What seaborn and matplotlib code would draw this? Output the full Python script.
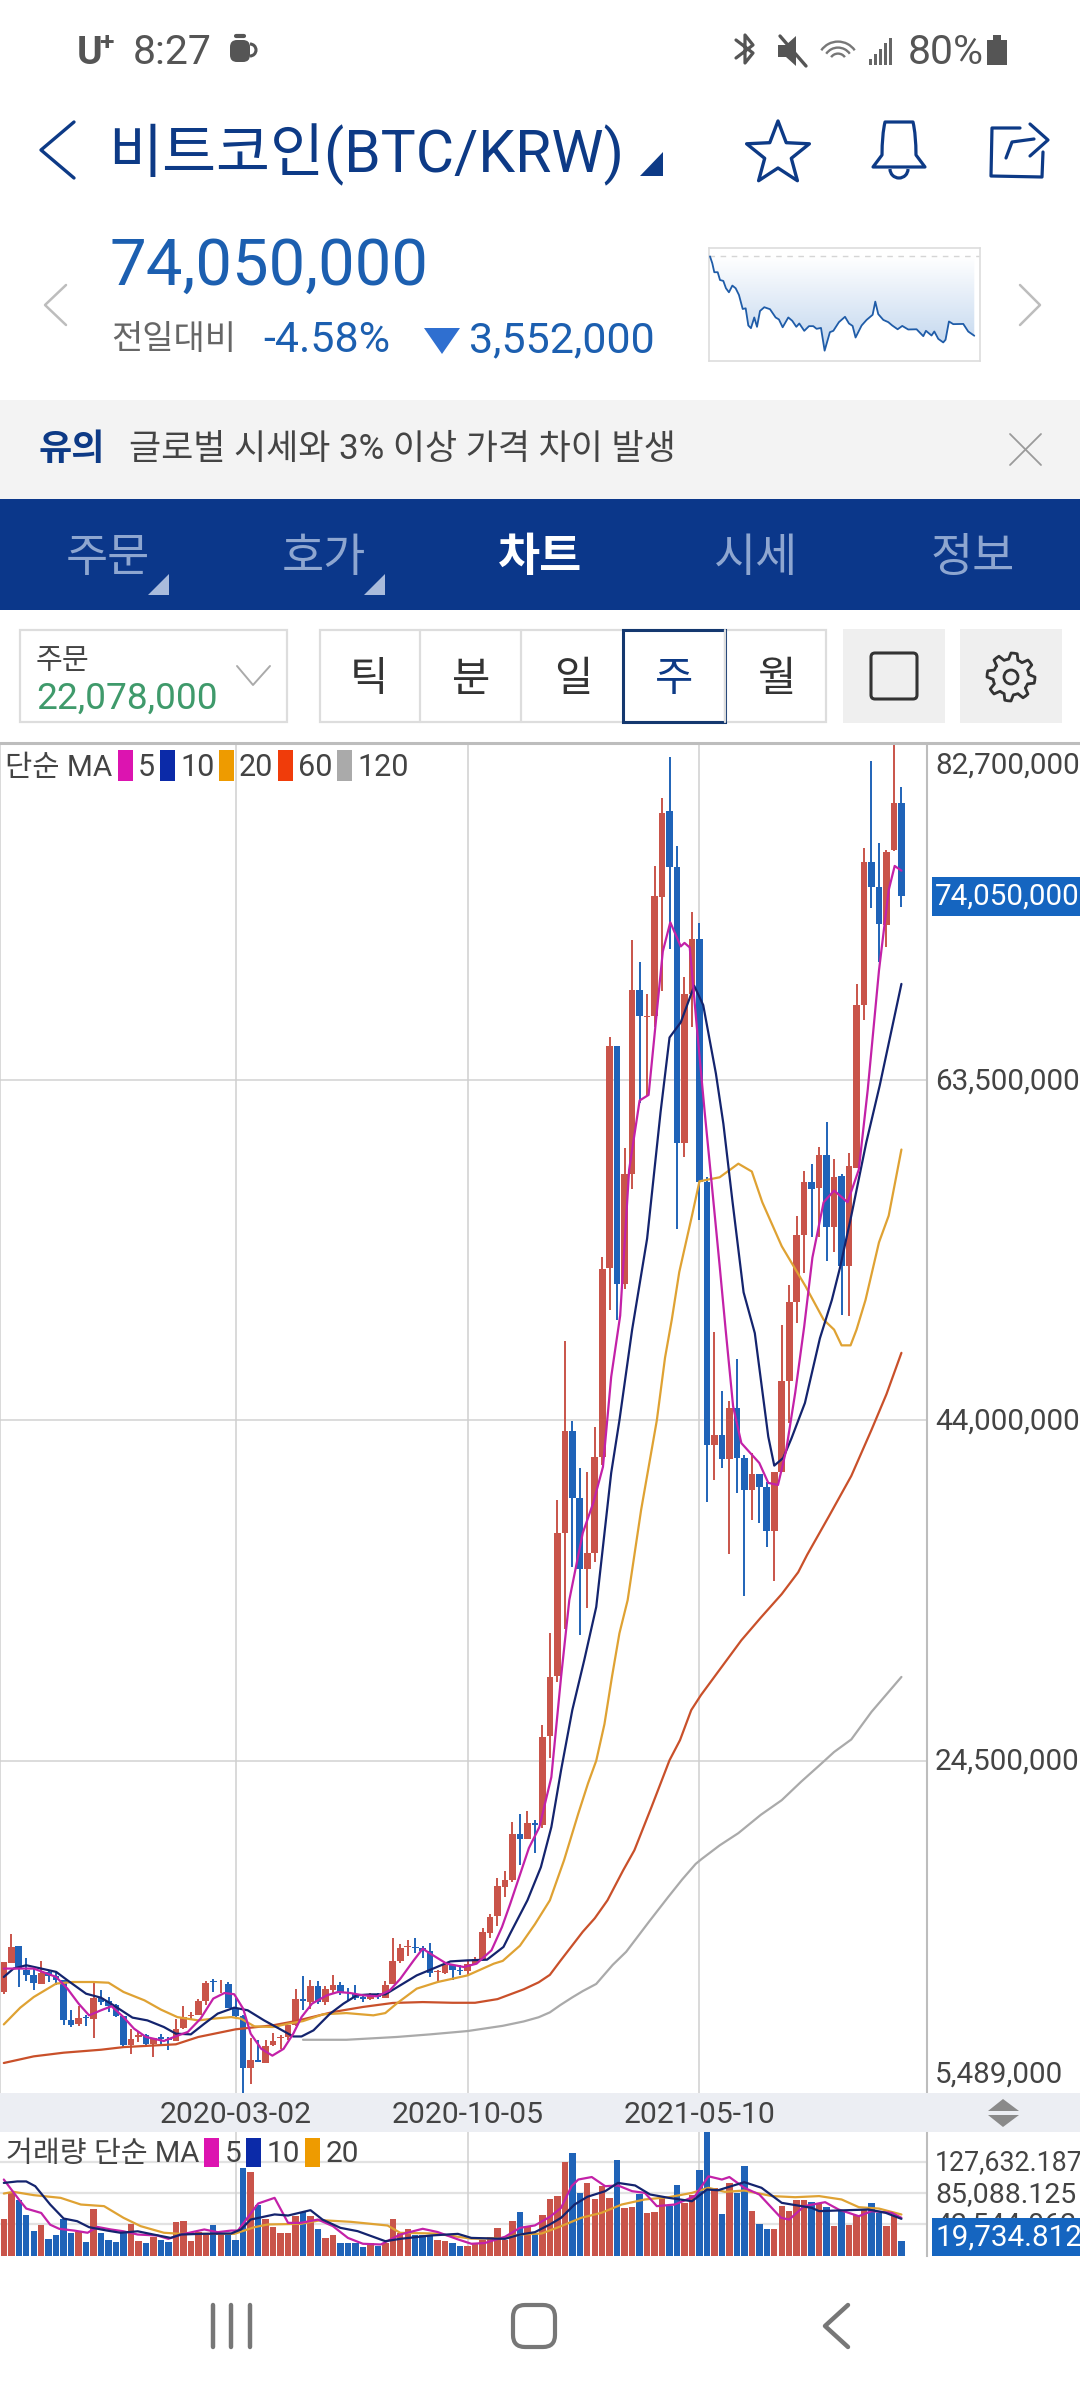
import numpy as np
import pandas as pd
import matplotlib
matplotlib.use("Agg")
import matplotlib.pyplot as plt
from matplotlib.patches import Rectangle, Polygon, FancyBboxPatch, Circle, Arc, PathPatch
from matplotlib.path import Path
from matplotlib.colors import LinearSegmentedColormap
import seaborn as sns

# ---------- data: weekly BTC/KRW candles, million KRW ----------
open_ = [11.25,12.93,13.87,12.49,12.21,11.73,12.40,12.15,11.92,9.62,9.39,9.80,9.68,10.92,10.75,10.48,9.87,8.19,8.67,8.76,8.29,8.65,8.57,8.44,9.20,9.85,9.95,10.75,11.86,11.69,11.73,10.35,9.85,6.89,7.33,7.20,8.19,8.61,8.67,9.34,10.83,10.67,11.59,10.67,11.38,11.63,11.25,11.15,10.96,10.83,11.09,10.92,11.72,13.01,13.83,13.83,13.77,13.60,12.39,12.34,12.78,12.53,12.43,12.87,13.16,14.65,15.59,17.25,17.65,20.29,20.00,20.92,20.81,25.91,29.35,37.55,43.40,39.56,35.48,36.41,41.91,52.75,65.43,51.83,58.14,68.64,67.14,67.20,73.97,78.90,75.69,59.92,68.46,71.56,57.68,42.60,43.17,41.80,44.72,41.85,40.02,40.94,40.19,37.67,41.05,46.27,50.80,54.64,57.68,57.34,59.20,55.10,58.03,52.84,58.49,67.83,75.98,74.54,72.36,76.70,79.36]
close = [12.97,13.83,12.59,12.21,11.77,12.34,12.17,11.92,9.66,9.38,9.76,9.74,10.92,10.69,10.43,9.87,8.19,8.57,8.76,8.29,8.63,8.57,8.52,9.15,9.83,9.91,10.73,11.78,11.80,11.73,10.35,9.85,6.91,7.33,7.23,8.13,8.44,8.67,9.34,10.86,10.71,11.59,10.67,11.44,11.67,11.25,11.19,10.92,10.86,11.09,10.96,11.67,13.01,13.79,13.89,13.77,13.60,12.36,12.43,12.82,12.53,12.45,12.87,13.16,14.69,15.55,17.31,17.65,20.29,20.00,20.92,20.81,25.85,29.29,37.55,43.40,39.56,35.48,36.41,41.91,52.69,65.43,51.83,58.14,68.64,67.20,67.20,74.03,78.79,75.69,59.92,68.46,71.56,57.68,42.60,43.17,41.80,44.72,41.85,40.02,40.94,40.19,37.67,41.05,46.27,50.80,54.64,57.68,57.28,59.20,55.10,57.97,52.84,58.60,67.80,75.98,74.54,72.42,76.58,79.36,74.05]
high = [12.97,14.56,13.87,13.20,12.59,13.01,12.49,12.40,11.92,10.20,10.43,9.91,11.86,11.34,10.96,10.58,9.87,9.15,8.95,8.86,8.63,8.86,8.67,9.72,10.45,10.10,10.87,11.86,12.01,11.96,11.82,10.92,9.91,8.63,8.48,8.48,8.92,8.76,9.34,11.40,12.15,11.92,11.86,11.57,12.20,11.82,11.50,11.63,11.06,11.19,11.19,11.88,14.36,14.02,14.25,14.36,13.87,14.06,12.49,12.93,12.87,12.78,13.01,13.26,14.94,15.74,17.77,18.17,20.98,21.43,21.61,21.10,26.54,31.82,39.44,48.56,43.97,41.28,41.05,43.63,53.38,65.98,65.48,59.63,71.50,70.24,68.41,75.75,79.65,82.03,76.89,69.38,73.14,72.48,57.97,49.08,45.70,45.12,47.53,42.03,42.14,40.94,40.48,41.05,49.48,51.77,55.73,58.31,58.71,59.69,61.12,58.99,58.14,59.34,69.01,76.78,81.77,77.07,76.70,82.70,80.28]
low = [11.12,12.93,11.54,11.86,11.34,11.69,11.82,11.63,9.34,9.24,9.28,9.32,8.63,10.48,10.10,9.82,8.09,7.67,8.38,8.19,7.52,8.19,7.90,8.44,9.15,9.62,9.91,10.48,11.27,11.19,10.35,9.82,5.46,5.99,7.23,7.20,8.13,7.99,8.51,9.28,10.20,10.29,10.58,10.48,11.19,11.06,10.77,10.77,10.67,10.81,10.83,10.92,11.69,12.93,13.29,13.48,13.22,12.11,11.82,12.30,11.91,12.20,12.20,12.78,13.06,14.36,15.01,16.68,17.54,18.51,20.00,19.20,20.63,24.65,29.01,32.02,35.60,31.70,33.25,35.89,41.45,50.34,49.77,51.55,57.28,62.21,62.56,66.57,68.58,70.99,54.99,59.12,66.57,55.50,39.33,40.59,41.28,36.35,39.85,33.94,38.30,38.13,36.75,34.80,41.05,43.86,49.60,52.46,54.53,54.53,53.15,53.67,50.05,50.00,58.49,66.92,73.34,70.24,71.10,76.61,73.40]
volume = [50.4,85.4,75.0,55.0,33.2,41.8,22.7,27.7,49.1,30.9,32.3,18.2,63.2,30.0,21.4,18.6,33.2,42.3,19.5,16.8,25.0,20.9,18.2,45.9,46.4,19.5,32.3,30.9,41.8,30.9,30.0,21.4,119.5,114.5,69.1,49.1,39.5,30.0,30.5,54.5,59.1,53.2,35.5,24.5,28.6,16.4,16.8,16.4,11.4,16.4,12.7,16.4,49.1,30.9,35.5,28.6,27.3,27.7,20.5,19.5,17.3,12.7,13.6,15.0,21.8,25.5,37.7,21.8,47.7,59.5,38.6,30.9,55.4,77.7,81.8,127.3,140.4,85.4,99.1,76.4,94.5,78.6,130.9,64.1,66.4,83.2,58.6,59.1,78.6,67.3,96.4,71.8,82.3,116.4,172.0,92.3,56.4,99.1,85.4,122.3,60.0,43.2,36.8,36.8,67.3,60.4,75.0,75.0,73.6,70.9,65.9,40.9,62.7,41.4,55.9,62.7,71.8,58.2,40.9,53.6,19.7]

ma5_x = [0,1.8,4,5.8,7,8.5,10,11.4,13,14.4,16,17.4,19,21.4,23,24.6,26.3,28,29.5,30.8,32,33,34.4,35.9,37.4,38.7,39.8,41.2,43.2,44.7,46.3,48,49.9,51.6,53,54.8,56,57,59.2,61.5,63.2,65.2,66.6,67.7,70.2,71.6,73.2,74.5,75.6,77.4,78.8,80.1,81.2,82.4,83.6,85,86.2,88.1,89.1,90.5,91,91.7,92.7,93.7,94.7,95.7,96.5,97.5,98.6,101,102.2,103.5,104.6,105.8,107,108.1,109.6,111,112.8,114.3,115.5,117,118.3,119.1,120]
ma5 = [12.59,12.59,12.59,12.3,12.11,11.44,10.58,9.91,10.2,10.43,9.81,9.15,8.67,8.44,8.71,8.96,9.72,10.87,11.19,11.12,10.29,8.86,8.0,7.6,7.99,8.86,9.81,10.58,11.06,11.25,11.19,11.06,11.0,11.34,12.0,13.06,13.73,13.45,12.87,12.68,12.87,13.64,14.97,16.3,19.5,20.7,23.56,29.3,33.71,37.55,39.27,41.34,46.5,50.0,58.37,62.33,62.65,70.87,72.54,71.16,71.36,71.1,66.3,61.66,57.28,52.86,49.2,44.8,42.7,41.56,40.42,40.3,42.31,45.58,49.37,53.33,56.5,57.17,56.5,58.37,62.96,69.78,74.39,75.77,75.5]
ma10_x = [0,1.3,3,5,7,8.5,11,13,14.7,17.2,19.2,21.4,23,25,26.8,28.6,30.8,32.6,34.8,36.8,38.7,39.8,41.4,43.6,45.4,47.2,49,51,53,55.2,57.4,59.7,62,64.6,66.8,67.7,70,71.8,73.2,74.5,76,77.6,79.2,81.2,82.3,84,86,87.8,89,90.5,92.3,93.5,95.2,96.2,97.4,98.9,100.4,102.2,103,104.2,105.3,107.1,109.1,110.7,111.8,113.3,115.3,117.1,120]
ma10 = [12.11,12.59,12.78,12.59,12.40,11.92,11.15,10.92,10.48,9.78,9.62,9.24,8.86,8.82,9.43,10.01,10.35,10.20,9.62,9.15,8.70,8.70,9.05,10.0,10.58,11.06,11.11,11.11,11.63,12.2,12.59,13.0,13.06,13.1,13.83,14.6,16.5,18.4,20.7,23.96,27.4,30.27,33.31,40.99,44.0,49.2,54.41,61.66,65.94,66.81,68.9,67.8,63.87,60.99,56.6,51.34,49.0,43.07,41.41,41.85,42.97,45.0,48.7,50.9,52.77,55.73,59.92,63.19,69.01]
ma20_x = [0,2.2,4,7,9.2,12,14,16,18.8,21,23.2,26,28,30.4,31.7,33.5,36,38,40,42.7,45.8,49.4,51,52.5,55.2,58,62,65.5,66.7,69,71,73,74.9,76.8,78.1,79.2,80.3,81.3,82.3,83.4,85.2,87.3,88.4,89.3,90.3,92,93,95.7,98.2,100,101.4,104,107.2,109.6,111,112,113.2,114,115.2,117,118.3,120]
ma20 = [9.39,10.35,10.96,11.73,11.82,11.82,11.78,11.25,10.77,10.24,9.81,9.62,9.72,9.81,9.72,9.28,9.24,9.43,9.58,9.97,10.04,9.91,10.04,10.58,11.44,11.82,12.2,12.87,13.03,13.9,15.13,16.5,18.8,21.47,23.2,24.5,26.6,29.3,31.8,33.7,38.87,44.0,47.6,49.77,52.5,55.73,57.7,57.93,58.71,58.26,56.5,53.98,51.67,49.77,49.2,48.3,48.3,49.2,50.9,54.2,55.73,59.52]
ma60_x = [0,4,8,13,16,23,26,31,36,39,44,48,52,56,60,63,66,69.5,71.5,73,74.4,76,77.4,79,80.7,82.8,84.3,86.6,89,90.4,91.9,93.2,95.5,98.6,101.2,104,106.2,107.4,110.3,113.3,116,118,120]
ma60 = [7.18,7.56,7.77,7.94,8.09,8.25,8.67,9.11,9.34,9.58,10.10,10.39,10.62,10.67,10.63,10.63,10.84,11.4,11.8,12.23,13.03,13.92,14.7,15.47,16.5,18.22,19.37,21.86,24.53,25.68,27.4,28.26,29.6,31.4,32.7,34.05,35.3,36.3,38.5,40.82,43.46,45.5,47.87]
ma120_x = [40,45.8,52.5,57,62,66.7,69.5,71.5,73,74.4,76,77.4,79.2,81.4,83.2,86.3,88.8,90.7,92.5,93.3,95.7,98.2,101.2,104,106.6,109,111,113.3,116,120]
ma120 = [8.51,8.51,8.67,8.82,9.01,9.31,9.56,9.8,10.08,10.5,10.94,11.3,11.71,12.8,13.55,15.3,16.68,17.7,18.59,18.87,19.65,20.35,21.4,22.24,23.3,24.22,25.0,25.72,27.3,29.3]

vma5_x = [0,1,2.2,3,5,6.2,7.4,9.4,11.2,12.5,14.3,16,17.9,20.5,22,23.7,26.8,28.6,30.4,31.3,32.4,34,36.2,38,39.7,42,44,46,48,50.4,53,56,58,60.7,62.5,64.3,67,69,71,73,74.5,75.9,76.8,78.6,80.4,82.1,84,85.7,87.3,89.7,92.4,94.2,96,97,99,101,103.9,105,107,109.8,111.6,114.3,116,118.7,120]
vma5 = [103.6,90,74,64,58,42,36.4,34,31,39,35.5,33,28.6,27.3,22.7,28.6,35.5,31.8,34,34,49,70.9,78.6,44.5,44.5,49,40,24,16,15,28.6,36.4,32,22,16,17,25.5,37.7,41,52.7,65,94.5,103.6,107,94.5,95.5,87.7,85.4,67.3,69.5,81,108,103.6,107,92.3,83.2,51.4,49,67.3,72.7,62.7,53.6,60.5,58.2,51.4]
vma10_x = [0,1.8,3,4.2,6.2,8,9.8,11.4,13.8,15.6,17.9,20,22.3,23.7,26.3,30.4,31.7,33,36.2,38,41,42.6,45,47.3,51,53,57.1,60.7,62.5,67,69,71,73,74.5,76.3,78,80.4,82.1,84.4,86.4,88.9,92,94,95.5,99,101.3,104,108,109,111.6,115.6,117.9,120]
vma10 = [99,101,101,94.5,69.5,50.4,46.8,38.6,34,31,33,28.6,24,28.6,29.5,30,35.5,49,56,54.5,61.8,49,37.7,33.2,19.5,22.7,27.3,29.5,24,22.7,28.6,31.8,42.3,51.4,69.5,80,87.7,99,95.5,83.2,78.6,74,90,89,100,92.3,71.8,65,60.5,61.4,62.7,58.2,50]
vma20_x = [0,1.3,4,7.6,10.3,13.4,16,18.3,21.4,23.7,30.8,33.5,35.3,39.7,42.4,46.4,51.3,53,57.6,62.5,63.8,67,69,71.9,74.5,77.2,79.9,82.6,85.7,88.9,92,94.2,96.4,99,102.7,105.8,109,112,114.3,117,120]
vma20 = [84.5,86.8,82.3,78.6,69.5,67.3,51.4,40,31,29.5,29.5,38.6,42.3,43.2,48.2,45.9,40.9,30.9,30,23,23,24,28.6,30,40,51.4,58.2,69.5,76.4,79.5,85.4,92.3,86.8,88.6,81,79.5,81,76.4,65.9,64,55.9]

spark_t = [0,.21,.39,.70,.91,1.21,1.45,1.72,2.03,2.33,2.63,2.97,3.24,3.48,3.72,4.02,4.27,4.54,4.93,5.45,5.96,6.26,6.60,7.11,7.47,7.84,8.11,8.56,8.99,9.38,9.68,10.08,10.41,10.89,11.20,11.71,12.26,12.62,12.95,13.22,13.77,14.22,14.77,15.01,15.28,15.74,16.19,16.55,17.04,17.46,18.0,18.76,19.37,19.61,20.12,20.37,20.73,21.18,21.39,21.70,22.09,23.0,23.45,24.0]
spark_p = [77.60,77.29,76.89,76.89,76.54,76.50,76.17,75.99,76.29,76.17,75.87,75.24,75.27,74.50,74.38,74.86,74.44,75.15,75.32,75.23,74.86,74.77,74.42,74.86,74.71,74.44,74.59,74.26,74.47,74.47,74.35,74.39,73.37,74.20,74.26,74.65,74.89,74.59,74.48,73.96,74.50,74.75,74.98,75.57,75.01,74.75,74.65,74.50,74.33,74.48,74.32,74.33,74.02,74.26,74.05,74.23,73.90,73.74,73.86,74.68,74.56,74.57,74.23,74.04]
prev_close = 77.602

price_ticks = [63.5, 44.0, 24.5]
price_labels = ["82,700,000", "63,500,000", "44,000,000", "24,500,000", "5,489,000"]
vol_ticks = [127.632, 85.088, 42.544]
vol_labels = ["127,632.187", "85,088.125", "42,544.062"]
date_idx = [31, 62, 93]
date_labels = ["2020-03-02", "2020-10-05", "2021-05-10"]
tabs = ["주문", "호가", "차트", "시세", "정보"]
periods = ["틱", "분", "일", "주", "월"]

# ---------- style ----------
sns.set_theme(style="white")
plt.rcParams['font.family'] = ['Roboto', 'Noto Sans CJK KR', 'DejaVu Sans']
RED, BLUE = "#c9544a", "#1f63b8"
NAVY = "#0d3a86"
TXT = "#444444"
W, H = 1080, 2400
fig = plt.figure(figsize=(10.8, 24), dpi=100, facecolor="white")

def rect_ax(x0, y0, x1, y1, **kw):
    return fig.add_axes([x0 / W, 1 - y1 / H, (x1 - x0) / W, (y1 - y0) / H], **kw)

XLIM = (-0.51, 123.42)
idx = np.arange(len(close))
df = pd.DataFrame({"i": idx, "open": open_, "close": close, "high": high, "low": low, "vol": volume})
df["dir"] = np.where(df["close"] >= df["open"], "up", "down")
col = df["dir"].map({"up": RED, "down": BLUE}).values

# ---------- price panel ----------
ax = rect_ax(0, 745, 927, 2092.5)
ax.set_facecolor("white")
for t in price_ticks:
    ax.axhline(t, color="#d2d2d2", lw=1.1, zorder=0)
for d in [-0.45] + date_idx:
    ax.axvline(d, color="#cfcfcf", lw=1.1, zorder=0)
ax.vlines(df["i"], df["low"], df["high"], colors=col, lw=1.4, zorder=2)
ax.bar(df["i"], (df["close"] - df["open"]).abs(), bottom=df[["open", "close"]].min(axis=1),
       width=0.88, color=col, linewidth=0, zorder=3)
line_kw = dict(ax=ax, estimator=None, sort=False, legend=False, zorder=4, lw=1.6)
sns.lineplot(x=ma120_x, y=ma120, color="#aaaaaa", **line_kw)
sns.lineplot(x=ma60_x, y=ma60, color="#c9502a", **line_kw)
sns.lineplot(x=ma20_x, y=ma20, color="#dfa233", **line_kw)
sns.lineplot(x=ma10_x, y=ma10, color="#14246e", **line_kw)
sns.lineplot(x=ma5_x, y=ma5, color="#c321a8", **line_kw)
ax.set_xlim(*XLIM)
ax.set_ylim(5.489, 82.7)
ax.set_xticks([]); ax.set_yticks([])
ax.set_xlabel(""); ax.set_ylabel("")
for s in ["top", "left", "bottom"]:
    ax.spines[s].set_visible(False)
ax.spines["right"].set_color("#bdbdbd"); ax.spines["right"].set_linewidth(1.5)

# ---------- volume panel ----------
av = rect_ax(0, 2132, 927, 2255.5)
av.set_facecolor("white")
for t in vol_ticks:
    av.axhline(t, color="#e2e2e2", lw=1.6, zorder=0)
for d in date_idx:
    av.axvline(d, color="#cfcfcf", lw=1.1, zorder=0)
sns.barplot(data=df, x="i", y="vol", hue="dir", palette={"up": RED, "down": BLUE}, dodge=False,
            native_scale=True, width=0.86, saturation=1, linewidth=0, legend=False, ax=av, zorder=3)
vkw = dict(ax=av, estimator=None, sort=False, legend=False, zorder=5, lw=1.6)
sns.lineplot(x=vma20_x, y=vma20, color="#dfa233", **vkw)
sns.lineplot(x=vma5_x, y=vma5, color="#c321a8", **vkw)
sns.lineplot(x=vma10_x, y=vma10, color="#14246e", **vkw)
av.set_xlim(*XLIM)
av.set_ylim(0, 168.4)
av.set_xticks([]); av.set_yticks([])
av.set_xlabel(""); av.set_ylabel("")
for s in ["top", "left", "bottom"]:
    av.spines[s].set_visible(False)
av.spines["right"].set_color("#bdbdbd"); av.spines["right"].set_linewidth(1.5)

# ---------- sparkline ----------
sp = rect_ax(709, 247.7, 980, 360.7)
grad = np.linspace(0, 1, 100).reshape(-1, 1)
cm = LinearSegmentedColormap.from_list("g", ["#ffffff", "#c4d8ef"])
im = sp.imshow(grad, extent=[0, 24, 73.6, prev_close], origin="upper", cmap=cm, aspect="auto", zorder=1)
poly = Polygon(list(zip(spark_t, spark_p)) + [(24, prev_close), (0, prev_close)], closed=True,
               transform=sp.transData, fc="none", ec="none")
sp.add_patch(poly)
im.set_clip_path(poly)
sp.axhline(prev_close, color="#d5d5d5", lw=1, ls=(0, (4, 4)), zorder=2)
sns.lineplot(x=spark_t, y=spark_p, estimator=None, sort=False, color="#1f5ca8", lw=1.3, ax=sp, legend=False, zorder=3)
sp.set_xlim(-0.09, 24.52); sp.set_ylim(72.92, 77.99)
sp.set_xticks([]); sp.set_yticks([]); sp.set_xlabel(""); sp.set_ylabel("")
for s in sp.spines.values():
    s.set_color("#dddddd"); s.set_linewidth(1.2)

# ---------- app chrome (pixel coordinates) ----------
ui = fig.add_axes([0, 0, 1, 1], zorder=10)
ui.set_xlim(0, W); ui.set_ylim(H, 0); ui.axis("off"); ui.patch.set_alpha(0)

def T(x, y, s, size, color=TXT, ha="left", va="center", **kw):
    return ui.text(x, y + 3, s, fontsize=size, color=color, ha=ha, va=va, **kw)
def R(x0, y0, x1, y1, fc="none", ec="none", lw=0, **kw):
    ui.add_patch(Rectangle((x0, y0), x1 - x0, y1 - y0, fc=fc, ec=ec, lw=lw, **kw))
def PL(pts, color, lw, **kw):
    xs, ys = zip(*pts)
    ui.plot(xs, ys, color=color, lw=lw, solid_capstyle="round", solid_joinstyle="round", **kw)
def TRI(pts, color):
    ui.add_patch(Polygon(pts, closed=True, fc=color, ec="none"))

# status bar
T(77, 50, "U", 28, "#555555", weight="bold")
T(99, 40, "+", 19, "#555555", weight="bold")
T(133, 50, "8:27", 29.5, "#555555")
ui.add_patch(FancyBboxPatch((232, 42), 16, 18, boxstyle="round,pad=2,rounding_size=7", fc="#555555", ec="none"))
ui.add_patch(Arc((250, 50), 12, 12, theta1=-90, theta2=90, color="#555555", lw=2.2))
PL([(236, 36), (244, 36)], "#555555", 3)
PL([(736, 40), (753, 53), (745, 63), (745, 35), (753, 45), (736, 58)], "#555555", 2.3)
TRI([(778, 45), (786, 45), (796, 36), (796, 66), (786, 57), (778, 57)], "#555555")
PL([(780, 36), (806, 66)], "#555555", 2.4)
for r in (17, 12, 7):
    ui.add_patch(Arc((838, 62), r * 2.4, r * 2.4, theta1=215, theta2=325, color="#777777", lw=1.7))
for k, h in enumerate((6, 11, 16, 22, 27)):
    R(869 + k * 5, 65 - h, 872 + k * 5, 65, fc="#666666")
T(908, 50, "80%", 29.5, "#555555")
R(987, 40, 1007, 65, fc="#555555"); R(993, 35, 1001, 40, fc="#555555")

# header
PL([(74, 122), (41, 150), (74, 178)], NAVY, 2.4)
T(108, 152, "비트코인(BTC/KRW)", 42.3, NAVY)
TRI([(663, 152), (663, 176), (640, 176)], NAVY)
ang = np.deg2rad(np.arange(0, 360, 36) - 90)
rad = np.where(np.arange(10) % 2 == 0, 33, 14)
ui.add_patch(Polygon(np.c_[778 + rad * np.cos(ang), 154 + rad * np.sin(ang)], closed=True, fc="none", ec=NAVY, lw=2.4, joinstyle="round"))
bell = Path([(873, 167), (882, 155), (882, 135), (885, 122), (899, 122), (913, 122), (916, 135), (916, 155), (925, 167), (873, 167)],
            [Path.MOVETO, Path.LINETO, Path.CURVE3, Path.CURVE3, Path.CURVE3, Path.CURVE3, Path.CURVE3, Path.LINETO, Path.LINETO, Path.CLOSEPOLY])
ui.add_patch(PathPatch(bell, fc="none", ec=NAVY, lw=2.3, joinstyle="round"))
ui.add_patch(Arc((899, 169), 18, 18, theta1=0, theta2=180, color=NAVY, lw=2.3))
PL([(1020, 128), (992, 128), (991, 176), (1042, 177), (1043, 152)], NAVY, 2.3)
PL([(1006, 158), (1012, 142), (1034, 139)], NAVY, 2.3)
PL([(1030, 124), (1048, 140), (1030, 156)], NAVY, 2.3)

# price row
T(110, 264, "74,050,000", 47, "#1c5fb0")
T(111, 337, "전일대비", 24.5, "#666666")
T(263, 338, "-4.58%", 31, "#1c5fb0")
TRI([(424, 328), (460, 328), (442, 354)], "#2f6fd0")
T(469, 338, "3,552,000", 31, "#1c5fb0")
PL([(66, 285), (45, 305), (66, 325)], "#bdbdbd", 1.8)
PL([(1020, 285), (1040, 305), (1020, 325)], "#bdbdbd", 1.8)

# notice
R(0, 400, W, 499, fc="#f3f3f3")
T(39, 447, "유의", 26, NAVY, weight="bold")
T(129, 447, "글로벌 시세와 3% 이상 가격 차이 발생", 25.2, "#444444")
PL([(1010, 434), (1041, 465)], "#9a9a9a", 1.3)
PL([(1041, 434), (1010, 465)], "#9a9a9a", 1.3)

# tabs
R(0, 499, W, 610, fc="#0b378a")
for s, cx in zip(tabs, [108, 324, 540, 756, 973]):
    on = s == "차트"
    T(cx, 555, s, 33, "white" if on else "#8ea6d0", ha="center", weight="bold" if on else "normal")
TRI([(169, 574), (169, 595), (148, 595)], "#a9bbdc")
TRI([(385, 574), (385, 595), (364, 595)], "#a9bbdc")

# controls
R(20, 630, 287, 722, ec="#dddddd", lw=1.6)
T(36, 658, "주문", 21, "#444444")
T(36, 696, "22,078,000", 26.7, "#3f9a6b")
PL([(237, 666), (253, 685), (270, 666)], "#aaaaaa", 1.4)
R(320, 630, 826, 722, ec="#dddddd", lw=1.6)
for x in (420, 521, 725):
    ui.plot([x, x], [630, 722], color="#dddddd", lw=1.6)
for s, cx in zip(periods, [369, 471, 573, 674, 777]):
    T(cx, 677, s, 30, NAVY if s == "주" else "#333333", ha="center")
R(623, 630, 725, 722, ec="#14386f", lw=2.2)
R(843, 629, 945, 723, fc="#efefef")
ui.add_patch(FancyBboxPatch((872, 654), 44, 44, boxstyle="round,pad=1,rounding_size=4", fc="none", ec="#333333", lw=2.2))
R(960, 629, 1062, 723, fc="#efefef")
gear_a = np.deg2rad(np.arange(0, 360, 7.5))
gear_r = 24 - 6 * ((np.arange(len(gear_a)) % 6) >= 3)
ui.add_patch(Polygon(np.c_[1011 + gear_r * np.cos(gear_a), 677 + gear_r * np.sin(gear_a)], closed=True, fc="none", ec="#333333", lw=2, joinstyle="round"))
ui.add_patch(Circle((1011, 677), 7, fc="none", ec="#333333", lw=2))

# chart frame + legend
ui.plot([0, W], [743, 743], color="#bdbdbd", lw=2.2)
T(5, 765, "단순 MA", 21.3, TXT)
for x, c, s in zip([118, 160, 219, 278, 337], ["#dc14b0", "#0b2aa8", "#ee9b00", "#f03c0a", "#aaaaaa"], ["5", "10", "20", "60", "120"]):
    R(x, 750, x + 15, 781, fc=c)
    T(x + 20, 765, s, 22, TXT)

# right price labels
for y, s in zip([763, 1079, 1419, 1759, 2072], price_labels):
    T(935, y, s, 21.3, TXT)
R(932, 877, W, 916, fc="#1565c0")
T(935, 894, "74,050,000", 21.3, "white")

# date band
R(0, 2092.5, W, 2132, fc="#eceef3")
xpx = lambda i: (i - XLIM[0]) / (XLIM[1] - XLIM[0]) * 927
for d, s in zip(date_idx, date_labels):
    T(xpx(d), 2112, s, 21.7, TXT, ha="center")
TRI([(1003, 2099), (1019, 2111), (988, 2111)], "#8a8a8a")
TRI([(988, 2115), (1019, 2115), (1003, 2127)], "#8a8a8a")

# volume legend & labels
T(6, 2151, "거래량 단순 MA", 21, TXT)
for x, c, s in zip([204, 246, 305], ["#dc14b0", "#0b2aa8", "#ee9b00"], ["5", "10", "20"]):
    R(x, 2138, x + 15, 2167, fc=c)
    T(x + 21, 2151, s, 21.5, TXT)
for y, s, fs in zip([2160, 2192, 2222], vol_labels, [19.3, 20.5, 20.5]):
    T(935, y, s, fs, TXT)
R(932, 2218, W, 2256, fc="#1565c0", zorder=5)
T(935, 2235, "19,734.812", 21.3, "white", zorder=6)

# android nav bar
for x in (213, 231, 250):
    ui.plot([x, x], [2305, 2347], color="#777777", lw=3.2, solid_capstyle="round")
ui.add_patch(FancyBboxPatch((514, 2306), 40, 40, boxstyle="round,pad=1,rounding_size=12", fc="none", ec="#777777", lw=3))
PL([(848, 2305), (825, 2326), (848, 2347)], "#777777", 3.2)

fig.savefig("out.png", dpi=100)
